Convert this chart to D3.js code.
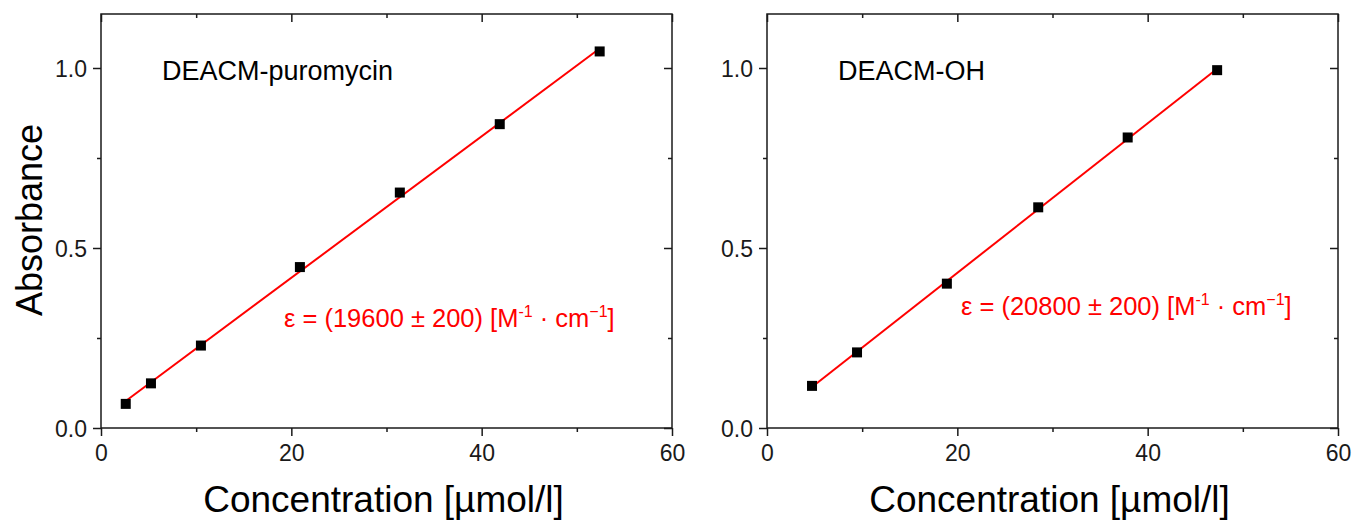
<!DOCTYPE html>
<html>
<head>
<meta charset="utf-8">
<script src="https://cdn.jsdelivr.net/npm/d3@7"></script>
<style>
  body { margin: 0; background: #fff; }
  svg text { font-family: "Liberation Sans", Arial, sans-serif; }
</style>
</head>
<body>
<svg id="chart" width="1354" height="522"></svg>
<script>
// concentrations [umol/l] and absorbance values
var puroConc = [2.6, 5.25, 10.5, 20.9, 31.4, 41.9, 52.4];
var puroAbs  = [0.067, 0.124, 0.229, 0.447, 0.654, 0.844, 1.046];
var ohConc   = [4.73, 9.46, 18.9, 28.5, 37.9, 47.3];
var ohAbs    = [0.117, 0.210, 0.401, 0.613, 0.807, 0.994];

var xMajor = [0, 20, 40, 60];
var xMinor = [10, 30, 50];
var yMajor = [0, 0.5, 1.0];
var yMinor = [0.25, 0.75];

var panelNames = ["DEACM-puromycin", "DEACM-OH"];
var epsValues = ["19600", "20800"];
var epsErrors = ["200", "200"];

var xTitle = "Concentration [\u00b5mol/l]";
var yTitle = "Absorbance";

var svg = d3.select("#chart");

function linFit(xs, ys) {
  var n = xs.length, mx = d3.mean(xs), my = d3.mean(ys);
  var sxy = 0, sxx = 0;
  for (var i = 0; i < n; i++) {
    sxy += (xs[i] - mx) * (ys[i] - my);
    sxx += (xs[i] - mx) * (xs[i] - mx);
  }
  var b = sxy / sxx;
  return { slope: b, icpt: my - b * mx };
}

function drawPanel(opt) {
  var x = d3.scaleLinear().domain([0, 60]).range([opt.left, opt.right]);
  var y = d3.scaleLinear().domain([0, 1.15]).range([428, 14]);
  var g = svg.append("g");

  // frame
  g.append("rect")
    .attr("x", opt.left).attr("y", 14)
    .attr("width", opt.right - opt.left).attr("height", 414)
    .attr("fill", "none").attr("stroke", "#1a1a1a").attr("stroke-width", 1.5);

  function axis(gen, vals, size, labels, tr) {
    var a = g.append("g").attr("transform", tr)
      .call(gen.tickValues(vals).tickSize(size).tickSizeOuter(0)
        .tickFormat(labels ? labels : ""));
    a.select(".domain").remove();
    a.selectAll("line").attr("stroke", "#1a1a1a").attr("stroke-width", 1.5);
    a.selectAll("text").attr("fill", "#1a1a1a").style("font-size", "23px");
    return a;
  }

  var bx = axis(d3.axisBottom(x), xMajor, 8, d3.format("d"), "translate(0,428)");
  bx.selectAll("text").attr("dy", "0.71em").attr("y", 17);
  axis(d3.axisBottom(x), xMinor, 4, null, "translate(0,428)");
  axis(d3.axisTop(x), xMajor, -8, null, "translate(0,14)");
  axis(d3.axisTop(x), xMinor, -4, null, "translate(0,14)");

  var ly = axis(d3.axisLeft(y), yMajor, 8, d3.format(".1f"), "translate(" + opt.left + ",0)");
  ly.selectAll("text").attr("x", -14).attr("dy", "0.36em");
  axis(d3.axisLeft(y), yMinor, 4, null, "translate(" + opt.left + ",0)");
  axis(d3.axisRight(y), yMajor, -8, null, "translate(" + opt.right + ",0)");
  axis(d3.axisRight(y), yMinor, -4, null, "translate(" + opt.right + ",0)");

  // x title
  g.append("text")
    .attr("x", (opt.left + opt.right) / 2 - 3).attr("y", 512)
    .attr("text-anchor", "middle")
    .style("font-size", "37px").attr("fill", "#000")
    .text(xTitle);

  if (opt.yTitle) {
    g.append("text")
      .attr("transform", "translate(42," + 220 + ") rotate(-90)")
      .attr("text-anchor", "middle")
      .style("font-size", "36px").attr("fill", "#000")
      .text(yTitle);
  }

  // fit line
  var fit = linFit(opt.xs, opt.ys);
  var x0 = d3.min(opt.xs), x1 = d3.max(opt.xs);
  g.append("line")
    .attr("x1", x(x0)).attr("y1", y(fit.icpt + fit.slope * x0))
    .attr("x2", x(x1)).attr("y2", y(fit.icpt + fit.slope * x1))
    .attr("stroke", "#ff0000").attr("stroke-width", 2);

  // data points
  var pts = opt.xs.map(function(d, i) { return [d, opt.ys[i]]; });
  g.selectAll("rect.pt").data(pts).enter().append("rect")
    .attr("class", "pt")
    .attr("x", function(d) { return x(d[0]) - 5; })
    .attr("y", function(d) { return y(d[1]) - 5; })
    .attr("width", 10).attr("height", 10)
    .attr("fill", "#000");

  // sample name
  g.append("text")
    .attr("x", opt.nameX).attr("y", 80)
    .style("font-size", "27px").attr("fill", "#000")
    .text(opt.name);

  // extinction coefficient
  var t = g.append("text")
    .attr("x", opt.epsX).attr("y", opt.epsY)
    .style("font-size", "25.5px").attr("fill", "#ff0000");
  t.append("tspan").text("\u03b5 = (" + opt.eps + " \u00b1 " + opt.err + ") [M");
  t.append("tspan").attr("dy", -10).style("font-size", "16px").text("-1");
  t.append("tspan").attr("dy", 10).text(" \u00b7 cm");
  t.append("tspan").attr("dy", -10).style("font-size", "16px").text("\u22121");
  t.append("tspan").attr("dy", 10).text("]");
}

drawPanel({ left: 101, right: 672, xs: puroConc, ys: puroAbs, yTitle: true,
  name: panelNames[0], nameX: 162, eps: epsValues[0], err: epsErrors[0], epsX: 284, epsY: 327 });
drawPanel({ left: 767, right: 1338, xs: ohConc, ys: ohAbs, yTitle: false,
  name: panelNames[1], nameX: 838, eps: epsValues[1], err: epsErrors[1], epsX: 961, epsY: 315 });
</script>
</body>
</html>
